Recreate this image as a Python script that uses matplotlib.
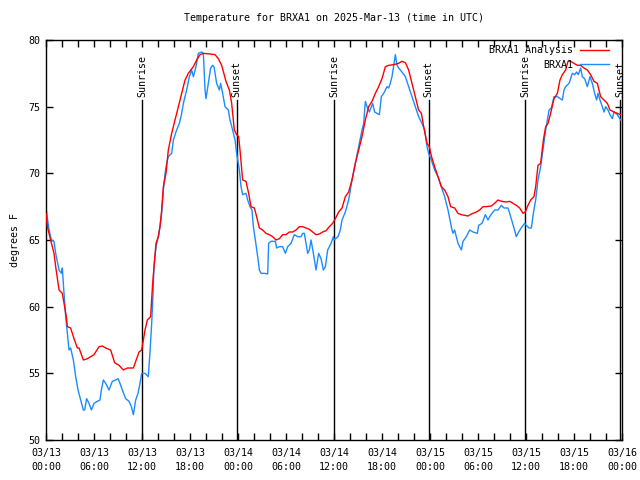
import matplotlib
matplotlib.use("Agg")
import matplotlib.pyplot as plt
import matplotlib.ticker as mticker

# ---- data (hours since 2025-03-13 00:00 UTC, degrees F) ---------------------
ANA_H = [0.0, 0.17, 0.58, 1.0, 1.21, 1.63, 2.04, 2.33, 2.54, 2.67, 3.08, 3.5, 3.92, 4.13,
         4.67, 5.17, 6.0, 6.63, 7.04, 7.46, 8.08, 8.58, 9.13, 9.67, 10.17, 10.92, 11.63,
         11.96, 12.17, 12.38, 12.67, 13.08, 13.33, 13.5, 13.75, 14.04, 14.25, 14.46, 14.67,
         15.0, 15.29, 15.71, 16.13, 16.54, 16.96, 17.38, 17.79, 18.42, 18.83, 19.25, 19.67,
         20.5, 21.13, 21.54, 21.96, 22.5, 22.92, 23.21, 23.54, 23.83, 24.08, 24.25, 24.58,
         25.0, 25.33, 25.63, 26.04, 26.33, 26.67, 27.08, 27.5, 27.92, 28.33, 28.75, 29.17,
         29.58, 30.0, 30.42, 30.83, 31.25, 31.67, 32.08, 32.5, 32.92, 33.33, 33.75, 34.17,
         34.58, 35.0, 35.42, 35.83, 36.17, 36.58, 37.0, 37.42, 37.83, 38.25, 38.67, 39.08,
         39.5, 39.92, 40.33, 40.75, 41.17, 41.58, 42.0, 42.42, 42.83, 43.46, 44.08, 44.5,
         44.92, 45.33, 45.75, 46.17, 46.58, 46.92, 47.21, 47.63, 47.92, 48.17, 48.58, 49.0,
         49.42, 49.83, 50.25, 50.58, 51.08, 51.5, 51.92, 52.75, 53.17, 53.79, 54.21, 54.63,
         55.04, 55.67, 56.08, 56.5, 56.92, 57.54, 57.96, 58.38, 58.79, 59.21, 59.63, 59.92,
         60.17, 60.58, 61.0, 61.21, 61.5, 61.83, 62.17, 62.46, 62.75, 63.08, 63.5, 63.92,
         64.25, 64.54, 64.96, 65.25, 65.58, 66.0, 66.42, 66.83, 67.25, 67.67, 68.08, 68.5,
         68.92, 69.33, 69.75, 70.17, 70.5, 71.0, 71.42, 71.83]
ANA_T = [67.0, 66.0, 65.0, 64.0, 63.0, 61.25, 61.0, 60.0, 59.25, 58.5, 58.4, 57.6, 56.9, 56.9,
         56.0, 56.1, 56.4, 57.0, 57.05, 56.9, 56.75, 55.8, 55.6, 55.25, 55.4, 55.4, 56.6,
         56.75, 57.5, 58.25, 59.0, 59.25, 61.75, 63.0, 64.75, 65.25, 66.0, 67.25, 69.0,
         70.0, 71.75, 73.0, 74.0, 75.0, 76.0, 77.0, 77.5, 78.0, 78.5, 78.9, 79.0,
         78.95, 78.9, 78.6, 78.1, 76.9, 76.25, 75.25, 73.25, 72.9, 72.75, 71.75, 69.5,
         69.4, 68.5, 67.5, 67.4, 66.75, 65.9, 65.75, 65.5, 65.4, 65.25, 65.0, 65.1,
         65.4, 65.4, 65.6, 65.6, 65.75, 66.0, 66.0, 65.9, 65.8, 65.6, 65.4, 65.45,
         65.6, 65.7, 66.0, 66.25, 66.6, 67.1, 67.4, 68.25, 68.6, 69.5, 70.75, 71.75,
         72.75, 74.0, 75.0, 75.4, 76.0, 76.5, 77.1, 78.0, 78.1, 78.15, 78.25, 78.4,
         78.3, 77.75, 76.75, 75.75, 74.75, 74.5, 73.5, 72.25, 72.0, 71.3, 70.5, 69.75,
         69.0, 68.75, 68.25, 67.5, 67.4, 67.0, 66.9, 66.8, 66.95, 67.1, 67.25, 67.5,
         67.5, 67.55, 67.75, 68.0, 67.9, 67.85, 67.9, 67.75, 67.6, 67.4, 67.0, 67.1,
         67.5, 68.0, 68.25, 69.0, 70.6, 70.75, 72.5, 73.5, 73.75, 74.5, 75.6, 76.0,
         77.0, 77.4, 77.75, 78.4, 78.4, 78.25, 78.1, 78.1, 77.9, 77.75, 77.4, 76.9,
         76.75, 75.75, 75.5, 75.25, 74.75, 74.6, 74.5, 74.4]

OBS_H = [0.0, 0.38, 0.67, 1.0, 1.21, 1.63, 1.92, 2.04, 2.25, 2.46, 2.67, 2.88, 3.08, 3.42,
         3.71, 4.0, 4.33, 4.67, 4.83, 5.08, 5.38, 5.67, 6.0, 6.42, 6.75, 6.92, 7.17, 7.46,
         7.88, 8.29, 8.71, 9.0, 9.25, 9.54, 9.96, 10.38, 10.67, 10.92, 11.21, 11.5, 11.75,
         11.96, 12.38, 12.79, 13.0, 13.21, 13.33, 13.5, 13.75, 14.04, 14.25, 14.46, 14.67,
         14.88, 15.08, 15.29, 15.71, 15.92, 16.33, 16.67, 16.96, 17.17, 17.58, 17.92, 18.21,
         18.42, 18.75, 19.04, 19.46, 19.67, 19.88, 20.0, 20.29, 20.58, 20.83, 21.0, 21.33,
         21.67, 21.83, 22.08, 22.38, 22.79, 23.0, 23.33, 23.63, 23.83, 24.17, 24.38, 24.58,
         25.0, 25.21, 25.5, 25.75, 25.92, 26.17, 26.46, 26.67, 26.88, 27.29, 27.71, 27.83,
         28.13, 28.67, 28.83, 29.17, 29.58, 29.92, 30.21, 30.63, 31.04, 31.46, 31.88, 32.08,
         32.29, 32.5, 32.71, 32.92, 33.13, 33.42, 33.75, 34.08, 34.38, 34.67, 34.92, 35.21,
         35.63, 35.92, 36.0, 36.5, 36.79, 37.0, 37.42, 37.83, 38.25, 38.67, 39.08, 39.5,
         39.71, 39.92, 40.13, 40.42, 40.67, 40.83, 41.08, 41.38, 41.67, 41.92, 42.21, 42.63,
         42.83, 43.04, 43.25, 43.67, 43.88, 44.08, 44.5, 44.92, 45.33, 45.75, 46.17, 46.58,
         47.0, 47.33, 47.63, 47.83, 48.17, 48.58, 49.0, 49.42, 49.83, 50.25, 50.58, 50.75,
         50.88, 51.08, 51.29, 51.5, 51.71, 51.92, 52.13, 52.54, 52.96, 53.38, 53.92, 54.08,
         54.5, 54.92, 55.25, 55.46, 55.75, 56.08, 56.5, 56.92, 57.25, 57.75, 57.96, 58.25,
         58.5, 58.79, 59.08, 59.5, 59.83, 60.04, 60.38, 60.67, 60.92, 61.21, 61.5, 61.83,
         62.17, 62.46, 62.88, 63.17, 63.5, 63.92, 64.54, 64.75, 64.96, 65.38, 65.79, 66.08,
         66.33, 66.54, 66.83, 67.04, 67.33, 67.67, 68.0, 68.29, 68.58, 68.83, 69.0, 69.25,
         69.54, 69.75, 69.96, 70.25, 70.5, 70.79, 71.0, 71.42, 71.83]
OBS_T = [67.4, 65.75, 65.0, 64.9, 64.0, 62.75, 62.5, 62.9, 61.0, 59.25, 58.0, 56.75, 56.9, 56.0,
         54.75, 53.75, 53.0, 52.25, 52.25, 53.1, 52.75, 52.25, 52.75, 52.9, 53.0, 53.75, 54.5, 54.25,
         53.75, 54.4, 54.5, 54.6, 54.25, 53.75, 53.1, 52.9, 52.5, 51.9, 53.0, 53.5, 54.25,
         55.0, 55.0, 54.75, 56.6, 58.75, 60.25, 63.0, 64.5, 65.25, 66.0, 67.0, 68.75,
         70.0, 70.75, 71.25, 71.5, 72.5, 73.25, 73.75, 74.5, 75.25, 76.25, 77.25, 77.75,
         77.25, 78.0, 79.0, 79.1, 79.0, 76.25, 75.6, 76.75, 77.9, 78.1, 78.0, 76.75,
         76.25, 76.75, 76.0, 75.0, 74.75, 74.0, 73.25, 72.5, 71.5, 70.25, 69.0, 68.4,
         68.5, 68.0, 67.5, 67.25, 66.0, 65.0, 63.75, 62.75, 62.5, 62.5, 62.45, 64.75,
         64.9, 64.9, 64.4, 64.5, 64.5, 64.0, 64.5, 64.75, 65.4, 65.25, 65.25, 65.5,
         65.5, 64.75, 64.0, 64.25, 65.0, 64.0, 62.75, 64.0, 63.6, 62.75, 63.0, 64.25,
         64.75, 65.25, 65.0, 65.25, 65.75, 66.5, 67.1, 68.0, 69.5, 70.75, 72.0, 73.25,
         73.75, 75.4, 75.0, 74.6, 75.0, 75.25, 74.6, 74.5, 74.4, 75.75, 76.0, 76.5,
         76.4, 76.75, 77.25, 78.9, 78.1, 77.9, 77.6, 77.25, 76.5, 75.75, 75.0, 74.25,
         73.75, 73.25, 72.0, 71.5, 71.0, 70.25, 69.75, 69.0, 68.25, 67.25, 66.25, 65.75,
         65.5, 65.75, 65.25, 64.75, 64.5, 64.25, 64.9, 65.25, 65.75, 65.6, 65.5, 66.1,
         66.25, 66.9, 66.5, 66.75, 67.0, 67.25, 67.25, 67.6, 67.4, 67.4, 67.0, 66.4,
         65.9, 65.25, 65.6, 66.0, 66.25, 66.1, 65.9, 65.9, 67.0, 68.0, 69.5, 70.5,
         72.0, 73.25, 74.75, 74.9, 75.75, 75.75, 75.5, 76.25, 76.5, 76.75, 77.5, 77.4,
         77.6, 77.4, 77.9, 77.25, 77.1, 76.5, 77.25, 76.75, 76.0, 75.5, 76.0, 75.5,
         75.0, 74.6, 75.0, 74.75, 74.4, 74.1, 74.6, 74.4, 74.0]

EVENT_H = [12.0, 23.83, 36.04, 47.83, 59.9, 71.8]
EVENT_LABELS = ["Sunrise", "Sunset", "Sunrise", "Sunset", "Sunrise", "Sunset"]

TICK_H = [0, 6, 12, 18, 24, 30, 36, 42, 48, 54, 60, 66, 72]
TICK_LABELS = ["03/13\n00:00", "03/13\n06:00", "03/13\n12:00", "03/13\n18:00",
               "03/14\n00:00", "03/14\n06:00", "03/14\n12:00", "03/14\n18:00",
               "03/15\n00:00", "03/15\n06:00", "03/15\n12:00", "03/15\n18:00",
               "03/16\n00:00"]

# ---- style ------------------------------------------------------------------
FS = 7.2
plt.rcParams.update({
    "font.family": "DejaVu Sans Mono",
    "font.size": FS,
    "axes.linewidth": 1.0,
})
RED = "#ff0000"
BLUE = "#1a8cff"

fig = plt.figure(figsize=(6.4, 4.8), dpi=100)
ax = fig.add_axes([46 / 640, 40 / 480, 576 / 640, 400 / 480])

ax.plot(ANA_H, ANA_T, color=RED, lw=1.0, label="BRXA1 Analysis", zorder=3)
ax.plot(OBS_H, OBS_T, color=BLUE, lw=1.0, label="BRXA1", zorder=2)

for h, lab in zip(EVENT_H, EVENT_LABELS):
    ax.plot([h, h], [50, 75.5], color="black", lw=1.0, zorder=1)
    ax.text(h, 75.7, lab, rotation=90, ha="center", va="bottom", fontsize=FS)

ax.set_xlim(0, 72)
ax.set_ylim(50, 80)
ax.set_xticks(TICK_H)
ax.set_xticklabels(TICK_LABELS, linespacing=1.5)
ax.xaxis.set_minor_locator(mticker.MultipleLocator(2))
ax.set_yticks([50, 55, 60, 65, 70, 75, 80])
ax.tick_params(which="both", direction="in", top=True, right=True,
               length=5, width=1.0, pad=6)
ax.tick_params(axis="y", pad=4)

ax.set_ylabel("degrees F", labelpad=6)
ax.set_title("Temperature for BRXA1 on 2025-Mar-13 (time in UTC)", fontsize=FS, pad=14)

ax.legend(loc="upper right", bbox_to_anchor=(1.0 - 6 / 576, 1.0 + 2 / 400), frameon=False,
          markerfirst=False, handlelength=2.9, labelspacing=0.45,
          borderaxespad=0.3, handletextpad=0.7, fontsize=FS)

fig.savefig("out.png", dpi=100)
